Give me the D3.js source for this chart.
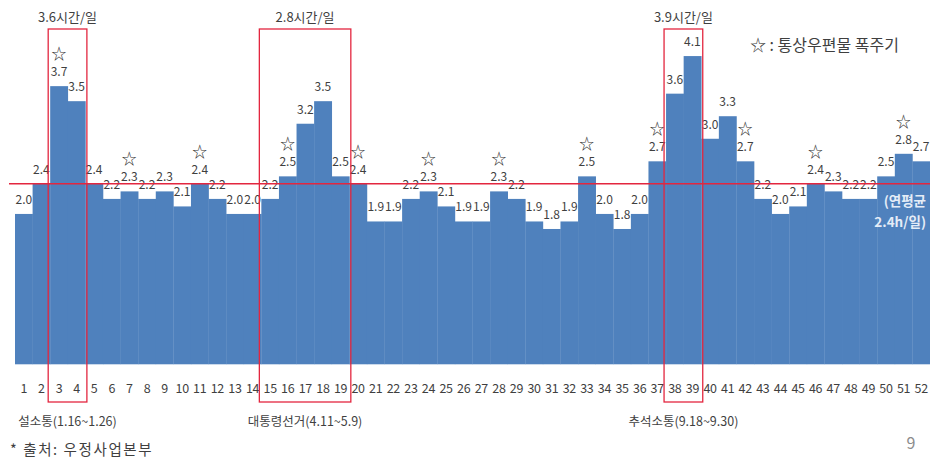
<!DOCTYPE html>
<html>
<head>
<meta charset="utf-8">
<script src="https://cdn.jsdelivr.net/npm/d3@7"></script>
<style>
  html, body { margin: 0; padding: 0; background: #fff; }
  svg { display: block; font-family: "Noto Sans CJK KR", "Noto Sans", sans-serif; }
</style>
</head>
<body>
<svg id="chart" width="930" height="464"></svg>
<script>
// Weekly delivery hours per day, weeks 1–52
const weeks = d3.range(1, 53);
const hours = [2.0, 2.4, 3.7, 3.5, 2.4, 2.2, 2.3, 2.2, 2.3, 2.1,
               2.4, 2.2, 2.0, 2.0, 2.2, 2.5, 3.2, 3.5, 2.5, 2.4,
               1.9, 1.9, 2.2, 2.3, 2.1, 1.9, 1.9, 2.3, 2.2, 1.9,
               1.8, 1.9, 2.5, 2.0, 1.8, 2.0, 2.7, 3.6, 4.1, 3.0,
               3.3, 2.7, 2.2, 2.0, 2.1, 2.4, 2.3, 2.2, 2.2, 2.5,
               2.8, 2.7];
// Weeks with a surge of regular mail
const peakWeeks = [3, 7, 11, 16, 20, 24, 28, 33, 37, 42, 46, 51];
const yearAverage = 2.4;

// Highlighted periods
const periods = [
  { from: 3,  to: 4,  title: "3.6시간/일", name: "설소통(1.16~1.26)" },
  { from: 15, to: 19, title: "2.8시간/일", name: "대통령선거(4.11~5.9)" },
  { from: 38, to: 39, title: "3.9시간/일", name: "추석소통(9.18~9.30)" }
];

const data = weeks.map((w, i) => ({ week: w, value: hours[i], peak: peakWeeks.includes(w) }));

const svg = d3.select("#chart");
const textColor = "#3f3f3f";
const barColor = "#4f81bd";
const red = "#e3263f";

const x = d3.scaleBand().domain(weeks).range([15, 930]).padding(0);
const y = d3.scaleLinear().domain([0, 4.5]).range([364.3, 26]);

// Bars
svg.append("g")
  .selectAll("rect")
  .data(data)
  .join("rect")
  .attr("x", d => x(d.week))
  .attr("y", d => y(d.value))
  .attr("width", x.bandwidth() + 0.3)
  .attr("height", d => y(0) - y(d.value))
  .attr("fill", barColor);

// Value labels
svg.append("g")
  .selectAll("text")
  .data(data)
  .join("text")
  .attr("x", d => x(d.week) + x.bandwidth() / 2)
  .attr("y", d => y(d.value) - 10)
  .attr("text-anchor", "middle")
  .attr("font-size", 12)
  .attr("fill", textColor)
  .text(d => d.value.toFixed(1));

// Stars over surge weeks
svg.append("g")
  .selectAll("text")
  .data(data.filter(d => d.peak))
  .join("text")
  .attr("x", d => x(d.week) + x.bandwidth() / 2)
  .attr("y", d => y(d.value) - 27)
  .attr("text-anchor", "middle")
  .attr("font-size", 15)
  .attr("fill", "#333")
  .text("☆");

// Week axis
const xAxis = svg.append("g")
  .attr("transform", `translate(0,${y(0)})`)
  .call(d3.axisBottom(x).tickSize(0).tickPadding(20));
xAxis.select(".domain").remove();
xAxis.selectAll("text")
  .attr("font-size", 12.5)
  .attr("font-family", "\"Noto Sans CJK KR\", sans-serif")
  .attr("fill", textColor)
  .attr("letter-spacing", -0.3);

// Yearly average line
svg.append("line")
  .attr("x1", 9).attr("x2", 930)
  .attr("y1", y(yearAverage)).attr("y2", y(yearAverage))
  .attr("stroke", red).attr("stroke-width", 1.5);

// Highlight boxes, titles and period names
const pg = svg.append("g");
periods.forEach(p => {
  const x0 = x(p.from) - 2;
  const x1 = x(p.to) + x.bandwidth() + 1.5;
  const cx = (x0 + x1) / 2;
  pg.append("rect")
    .attr("x", x0).attr("y", 29)
    .attr("width", x1 - x0).attr("height", 373)
    .attr("fill", "none")
    .attr("stroke", red).attr("stroke-width", 1.3);
  pg.append("text")
    .attr("x", cx).attr("y", 22)
    .attr("text-anchor", "middle")
    .attr("font-size", 13)
    .attr("fill", textColor)
    .text(p.title);
  pg.append("text")
    .attr("x", cx).attr("y", 426)
    .attr("text-anchor", "middle")
    .attr("font-size", 12.5)
    .attr("fill", textColor)
    .text(p.name);
});

// Legend
svg.append("text")
  .attr("x", 750).attr("y", 51)
  .attr("font-size", 16)
  .attr("fill", textColor)
  .text("☆ : 통상우편물 폭주기");

// Average note inside the bars
const noteStyle = sel => sel
  .attr("x", 926)
  .attr("text-anchor", "end")
  .attr("font-size", 13.5)
  .attr("font-weight", "bold")
  .attr("fill", "#e4ecf7");
svg.append("text").call(noteStyle).attr("y", 206).text("(연평균");
svg.append("text").call(noteStyle).attr("y", 227).text("2.4h/일)");

// Source and page number
svg.append("text")
  .attr("x", 10).attr("y", 455)
  .attr("font-size", 14.5)
  .attr("letter-spacing", 1.6)
  .attr("fill", textColor)
  .text("* 출처: 우정사업본부");

svg.append("text")
  .attr("x", 911).attr("y", 449)
  .attr("text-anchor", "middle")
  .attr("font-size", 16)
  .attr("fill", "#8c8c8c")
  .text("9");
</script>
</body>
</html>
